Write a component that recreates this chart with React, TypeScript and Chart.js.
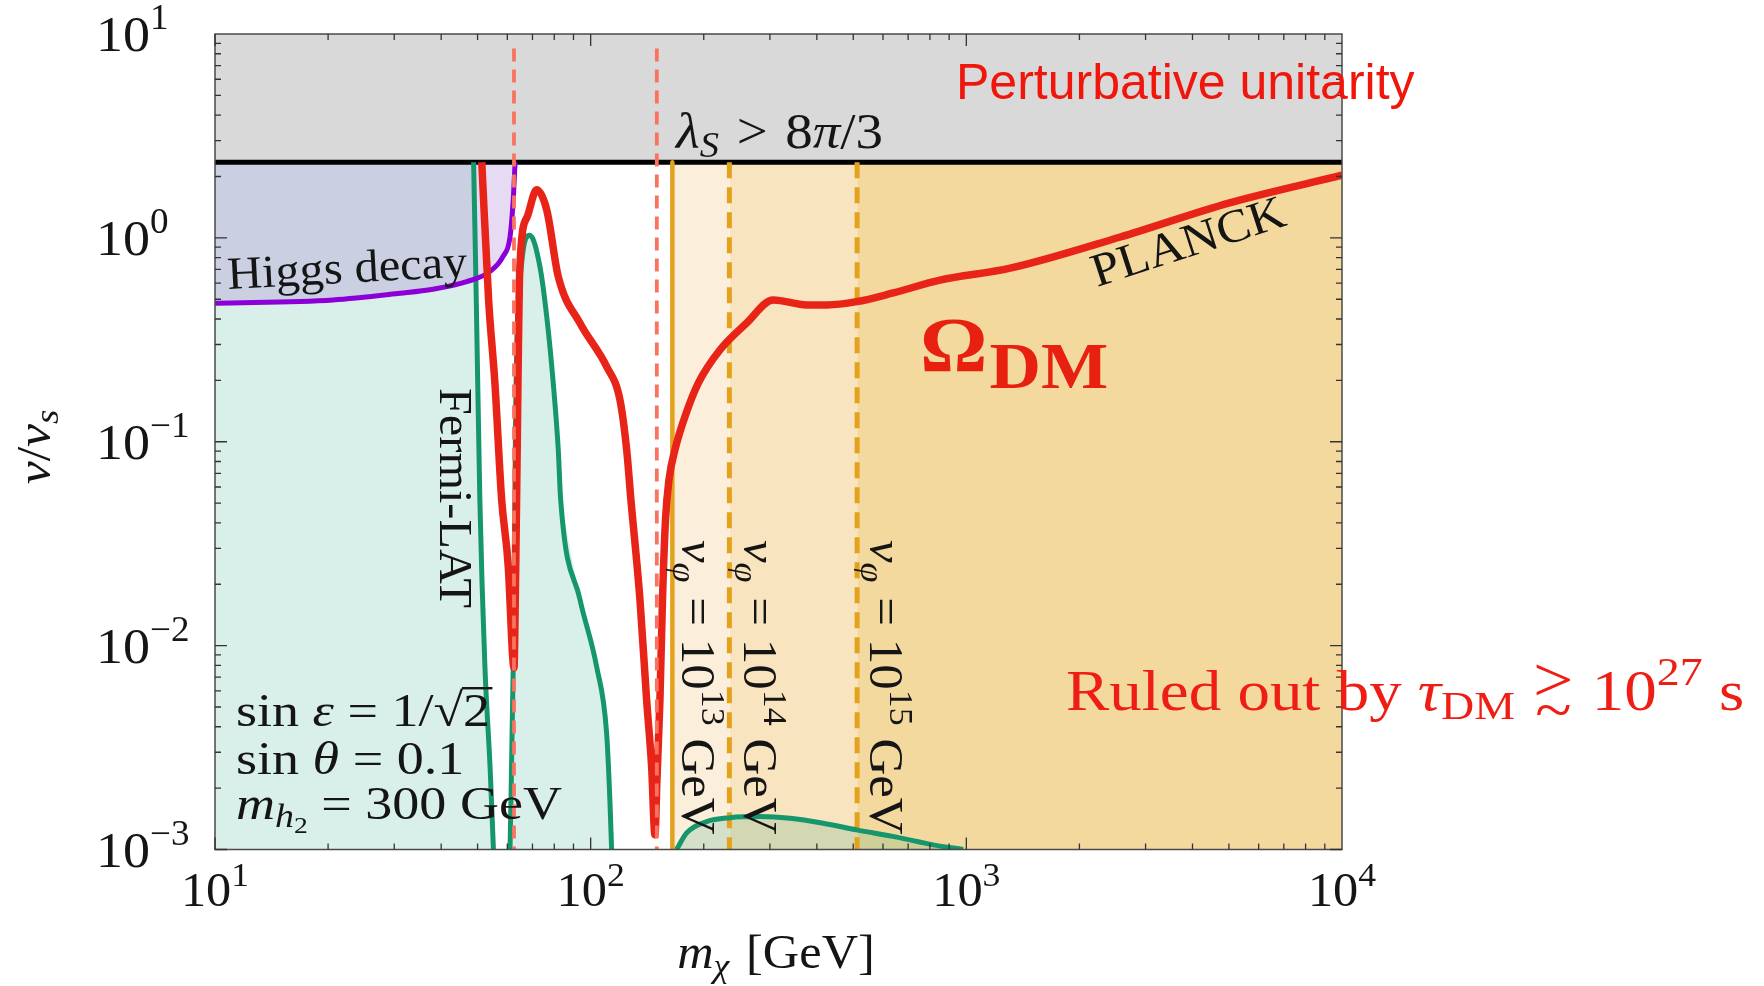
import { useEffect, useRef } from 'react';
import { Chart, registerables } from 'chart.js';

Chart.register(...registerables);

const W = 1764;
const H = 986;

// axes ranges
const X_MIN = 10;
const X_MAX = 10000;
const Y_MIN = 0.001;
const Y_MAX = 10;

// tick values and exponent labels
const X_TICKS = [10, 100, 1000, 10000];
const X_TICK_EXP = ['1', '2', '3', '4'];
const Y_TICKS = [10, 1, 0.1, 0.01, 0.001];
const Y_TICK_EXP = ['1', '0', '\u22121', '\u22122', '\u22123'];

// perturbative unitarity bound (lambda_S > 8pi/3)
const UNITARITY_Y = 2.35;

// vertical reference lines (GeV)
const RES_H1 = 62.5;
const RES_H2 = 150;
const DASH_TOP = 8.5;
const VPHI_13 = 165;
const VPHI_14 = 234;
const VPHI_15 = 512;

// Higgs decay bound
const HIGGS_X = [10, 20.6, 31.1, 38, 46.8, 53.9, 58.4, 61.0, 62.2, 62.9, 63.0];
const HIGGS_Y = [0.478, 0.496, 0.535, 0.56, 0.61, 0.683, 0.809, 1.01, 1.53, 2.28, 2.35];

// Fermi-LAT bounds
const FERMI_L_X = [48.8, 49.6, 50.7, 52.3, 54.0, 55.1];
const FERMI_L_Y = [2.35, 0.5, 0.052, 0.0079, 0.0025, 0.001];

const FERMI_M_X = [61.0, 62.2, 63.2, 65.5, 68.9, 73.3, 76.4, 79.5, 82.0, 83.2, 93.7, 103.7, 110.3, 112.5, 113.7];
const FERMI_M_Y = [0.001, 0.0079, 0.16, 0.75, 1.03, 0.72, 0.41, 0.194, 0.091, 0.052, 0.0168, 0.0079, 0.0037, 0.00175, 0.001];

const FERMI_R_X = [169.4, 180.1, 203.6, 234.9, 282.2, 339.2, 416.0, 510.5, 652.5, 816.5, 981];
const FERMI_R_Y = [0.001, 0.001206, 0.001371, 0.001433, 0.00145, 0.001424, 0.001346, 0.001248, 0.00115, 0.001054, 0.001];

// PLANCK relic density line
const PLANCK_X = [51.3, 53.5, 55.6, 57.96, 60.35, 62.0, 62.5, 63.0, 63.5, 64.8, 67.8, 71.8, 76.4, 82.0, 93.7, 110.3, 119.7, 124.7, 128.0, 135.3, 140.9, 145.3, 148.3, 150.1, 152.9, 155.3, 158.2, 161.6, 167.6, 178.2, 193.4, 220.8, 260.2, 306.2, 375.8, 424.6, 510.5, 638.8, 850.6, 1308, 2570, 5047, 10000];
const PLANCK_Y = [2.35, 0.496, 0.194, 0.0518, 0.0244, 0.00883, 0.00777, 0.0168, 0.0518, 0.723, 1.27, 1.72, 1.37, 0.645, 0.381, 0.2335, 0.16, 0.0912, 0.0518, 0.01675, 0.00542, 0.00255, 0.00118, 0.00219, 0.00542, 0.01675, 0.0413, 0.065, 0.0912, 0.1327, 0.194, 0.282, 0.3825, 0.496, 0.469, 0.469, 0.4865, 0.537, 0.62, 0.71, 1.01, 1.49, 2.03];

const SERIF = '"Liberation Serif", "DejaVu Serif", serif';
const SANS = '"Liberation Sans", Arial, sans-serif';

const C_RED = 'rgb(232,36,24)';
const C_GREEN = 'rgb(22,150,108)';
const C_PURPLE = 'rgb(140,0,215)';
const C_ORANGE = 'rgb(228,161,27)';
const C_DASH = 'rgb(248,116,96)';

type Pt = { x: number; y: number };
const pts = (xs: number[], ys: number[]): Pt[] => xs.map((x, i) => ({ x, y: ys[i] }));

const F = (size: number, opt = '') => `${opt} ${size}px ${SERIF}`.trim();

type Seg = { t: string; f: string; dy?: number; dx?: number; bar?: number; adv?: number };

function rich(
  ctx: CanvasRenderingContext2D,
  segs: Seg[],
  x: number,
  y: number,
  o: { angle?: number; align?: 'left' | 'center' | 'right'; sx?: number; color?: string } = {}
) {
  const sx = o.sx ?? 1;
  let w = 0;
  const widths = segs.map((s) => {
    ctx.font = s.f;
    const m = s.adv ?? ctx.measureText(s.t).width;
    w += m + (s.dx ?? 0);
    return m;
  });
  ctx.save();
  ctx.translate(x, y);
  ctx.rotate(o.angle ?? 0);
  ctx.scale(sx, 1);
  ctx.fillStyle = o.color ?? '#151515';
  ctx.textBaseline = 'alphabetic';
  ctx.textAlign = 'left';
  let cx = o.align === 'center' ? -w / 2 : o.align === 'right' ? -w : 0;
  segs.forEach((s, i) => {
    ctx.font = s.f;
    cx += s.dx ?? 0;
    ctx.fillText(s.t, cx, s.dy ?? 0);
    if (s.bar) {
      ctx.fillRect(cx - 1, (s.dy ?? 0) - s.bar, widths[i] + 3, 2.4);
    }
    cx += widths[i];
  });
  ctx.restore();
}

const decorPlugin = {
  id: 'decor',
  afterDraw(chart: any) {
    const ctx: CanvasRenderingContext2D = chart.ctx;
    const xs = chart.scales.x;
    const ys = chart.scales.y;
    const { left, right, top, bottom } = chart.chartArea;

    // frame
    ctx.save();
    ctx.strokeStyle = '#4a4a4a';
    ctx.lineWidth = 1.5;
    ctx.strokeRect(left, top, right - left, bottom - top);

    // ticks (inside, all four sides)
    ctx.strokeStyle = '#333';
    ctx.lineWidth = 1.3;
    ctx.beginPath();
    for (let d = 1; d < 4; d++) {
      for (let m = 1; m <= 9; m++) {
        const v = m * Math.pow(10, d);
        if (v > X_MAX) continue;
        const px = xs.getPixelForValue(v);
        const len = m === 1 ? 12 : 6;
        ctx.moveTo(px, bottom);
        ctx.lineTo(px, bottom - len);
        ctx.moveTo(px, top);
        ctx.lineTo(px, top + len);
      }
    }
    for (let d = -3; d < 1; d++) {
      for (let m = 1; m <= 9; m++) {
        const v = m * Math.pow(10, d);
        const py = ys.getPixelForValue(v);
        const len = m === 1 ? 12 : 6;
        ctx.moveTo(left, py);
        ctx.lineTo(left + len, py);
        ctx.moveTo(right, py);
        ctx.lineTo(right - len, py);
      }
    }
    ctx.stroke();
    ctx.restore();

    // tick labels
    X_TICKS.forEach((v, i) => {
      const px = xs.getPixelForValue(v);
      rich(ctx, [{ t: '10', f: F(48) }, { t: X_TICK_EXP[i], f: F(34), dy: -20 }], px, 906, { align: 'center', sx: 1.05 });
    });
    Y_TICKS.forEach((v, i) => {
      const py = ys.getPixelForValue(v);
      rich(ctx, [{ t: '10', f: F(51) }, { t: Y_TICK_EXP[i], f: F(35), dy: -22 }], 96, py + 17, { align: 'left', sx: 1.06 });
    });

    // axis titles
    rich(
      ctx,
      [{ t: 'm', f: F(48, 'italic') }, { t: '\u03c7', f: F(34, 'italic'), dy: 9 }, { t: ' [GeV]', f: F(48), dx: 4 }],
      776, 968, { align: 'center', sx: 1.05 }
    );
    rich(
      ctx,
      [{ t: 'v', f: F(48, 'italic') }, { t: '/', f: F(48) }, { t: 'v', f: F(48, 'italic') }, { t: 's', f: F(34, 'italic'), dy: 8 }],
      50, 447, { align: 'center', angle: -Math.PI / 2, sx: 1.08 }
    );

    // region labels
    rich(ctx, [{ t: 'Higgs decay', f: F(46) }], 228, 289, { angle: (-3 * Math.PI) / 180, sx: 1.05 });
    rich(ctx, [{ t: 'Fermi-LAT', f: F(46) }], 440, 388, { angle: Math.PI / 2, sx: 1.05 });
    rich(ctx, [{ t: 'PLANCK', f: F(47) }], 1097, 287, { angle: (-18 * Math.PI) / 180, sx: 1.07 });
    rich(
      ctx,
      [
        { t: '\u03bb', f: F(50, 'italic') },
        { t: 'S', f: F(35, 'italic'), dy: 9 },
        { t: '>', f: F(50), dx: 16 },
        { t: '8', f: F(50), dx: 16 },
        { t: '\u03c0', f: F(50, 'italic') },
        { t: '/3', f: F(50) },
      ],
      676, 148, { sx: 1.1 }
    );

    const vphi = (x: number, e: string) =>
      rich(
        ctx,
        [
          { t: 'v', f: F(48, 'italic') },
          { t: '\u03c6', f: F(34, 'italic'), dy: 9 },
          { t: ' = 10', f: F(48), dx: 2 },
          { t: e, f: F(34), dy: -20 },
          { t: ' GeV', f: F(48) },
        ],
        x, 540, { angle: Math.PI / 2, sx: 1.06 }
      );
    vphi(682, '13');
    vphi(744, '14');
    vphi(870, '15');

    // parameter block
    rich(
      ctx,
      [
        { t: 'sin ', f: F(47) },
        { t: '\u03b5', f: F(47, 'italic') },
        { t: ' = 1/\u221a', f: F(47) },
        { t: '2', f: F(47), bar: 39 },
      ],
      236, 726, { sx: 1.15 }
    );
    rich(ctx, [{ t: 'sin ', f: F(47) }, { t: '\u03b8', f: F(47, 'italic') }, { t: ' = 0.1', f: F(47) }], 236, 774, { sx: 1.15 });
    rich(
      ctx,
      [
        { t: 'm', f: F(47, 'italic') },
        { t: 'h', f: F(33, 'italic'), dy: 8 },
        { t: '2', f: F(24), dy: 14 },
        { t: ' = 300 GeV', f: F(47) },
      ],
      236, 819, { sx: 1.15 }
    );

    // red annotations
    ctx.save();
    ctx.font = `50px ${SANS}`;
    ctx.fillStyle = 'rgb(240,22,12)';
    ctx.textBaseline = 'alphabetic';
    ctx.fillText('Perturbative unitarity', 956, 99);
    ctx.restore();

    rich(
      ctx,
      [{ t: '\u03a9', f: F(78, 'bold') }, { t: 'DM', f: F(66, 'bold'), dy: 17, dx: 2 }],
      920, 371, { color: 'rgb(232,32,16)', sx: 1.08 }
    );
    rich(
      ctx,
      [
        { t: 'Ruled out by ', f: F(58) },
        { t: '\u03c4', f: F(58, 'italic') },
        { t: 'DM', f: F(41), dy: 9 },
        { t: '>', f: F(64), dy: -9, dx: 16, adv: 0 },
        { t: '~', f: F(60), dy: 20, dx: 2 },
        { t: '10', f: F(58), dx: 18 },
        { t: '27', f: F(41), dy: -25 },
        { t: ' s', f: F(58) },
      ],
      1066, 710, { color: 'rgb(238,30,20)', sx: 1.12 }
    );
  },
};

export default function App() {
  const ref = useRef<HTMLCanvasElement | null>(null);

  useEffect(() => {
    if (!ref.current) return;
    const none = 'rgba(0,0,0,0)';
    const fillOnly = (data: Pt[], color: string, fill: any, order: number) => ({
      data,
      backgroundColor: color,
      borderColor: none,
      borderWidth: 0,
      pointRadius: 0,
      fill,
      order,
      tension: 0,
    });
    const line = (data: Pt[], color: string, width: number, order: number, dash: number[] = [], smooth = true) => ({
      data,
      borderColor: color,
      borderWidth: width,
      borderDash: dash,
      borderCapStyle: 'butt',
      borderJoinStyle: 'round',
      pointRadius: 0,
      fill: false,
      order,
      cubicInterpolationMode: smooth ? 'monotone' : 'default',
      tension: 0,
    });

    const chart = new Chart(ref.current, {
      type: 'line',
      data: {
        datasets: [
          // shaded lifetime bands
          fillOnly(pts([VPHI_13, VPHI_14], [UNITARITY_Y, UNITARITY_Y]), 'rgb(251,238,218)', 'start', 30),
          fillOnly(pts([VPHI_14, VPHI_15], [UNITARITY_Y, UNITARITY_Y]), 'rgb(248,228,190)', 'start', 30),
          fillOnly(pts([VPHI_15, X_MAX], [UNITARITY_Y, UNITARITY_Y]), 'rgb(244,217,159)', 'start', 30),
          // Fermi-LAT fills
          fillOnly([{ x: X_MIN, y: UNITARITY_Y }, ...pts(FERMI_L_X, FERMI_L_Y)], 'rgba(26,160,120,0.166)', 'start', 28),
          fillOnly(pts(FERMI_M_X, FERMI_M_Y), 'rgba(26,160,120,0.166)', 'start', 28),
          fillOnly(pts(FERMI_R_X, FERMI_R_Y), 'rgba(26,160,120,0.166)', 'start', 28),
          // Higgs decay fill
          fillOnly(pts(HIGGS_X, HIGGS_Y), 'rgba(164,114,209,0.26)', { value: UNITARITY_Y }, 26),
          // perturbative unitarity region + boundary
          {
            data: pts([X_MIN, X_MAX], [UNITARITY_Y, UNITARITY_Y]),
            backgroundColor: 'rgb(217,217,217)',
            borderColor: '#000',
            borderWidth: 5,
            pointRadius: 0,
            fill: 'end',
            order: 24,
          },
          // vphi lines
          line(pts([VPHI_13, VPHI_13], [UNITARITY_Y, Y_MIN]), C_ORANGE, 4.5, 20, [], false),
          line(pts([VPHI_14, VPHI_14], [UNITARITY_Y, Y_MIN]), C_ORANGE, 5, 20, [16, 9], false),
          line(pts([VPHI_15, VPHI_15], [UNITARITY_Y, Y_MIN]), C_ORANGE, 5, 20, [16, 9], false),
          // Fermi-LAT lines
          line(pts(FERMI_L_X, FERMI_L_Y), C_GREEN, 5, 18),
          line(pts(FERMI_M_X, FERMI_M_Y), C_GREEN, 5, 18),
          line(pts(FERMI_R_X, FERMI_R_Y), C_GREEN, 5, 18),
          // Higgs decay line
          line(pts(HIGGS_X, HIGGS_Y), C_PURPLE, 5, 17),
          // PLANCK
          line(pts(PLANCK_X, PLANCK_Y), C_RED, 7.5, 15),
          // resonance lines
          line(pts([RES_H1, RES_H1], [DASH_TOP, Y_MIN]), C_DASH, 3.8, 10, [13, 8], false),
          line(pts([RES_H2, RES_H2], [DASH_TOP, Y_MIN]), C_DASH, 3.8, 10, [13, 8], false),
        ] as any,
      },
      options: {
        responsive: false,
        animation: false,
        devicePixelRatio: 1,
        layout: { padding: { left: 215, top: 34, right: W - 1342, bottom: H - 849.5 } },
        plugins: { legend: { display: false }, tooltip: { enabled: false } },
        scales: {
          x: { type: 'logarithmic', min: X_MIN, max: X_MAX, display: false },
          y: { type: 'logarithmic', min: Y_MIN, max: Y_MAX, display: false },
        },
      } as any,
      plugins: [decorPlugin],
    });
    return () => chart.destroy();
  }, []);

  return (
    <div style={{ position: 'fixed', left: 0, top: 0, width: W, height: H, background: '#fff' }}>
      <canvas ref={ref} width={W} height={H} style={{ display: 'block', width: W, height: H }} />
    </div>
  );
}
